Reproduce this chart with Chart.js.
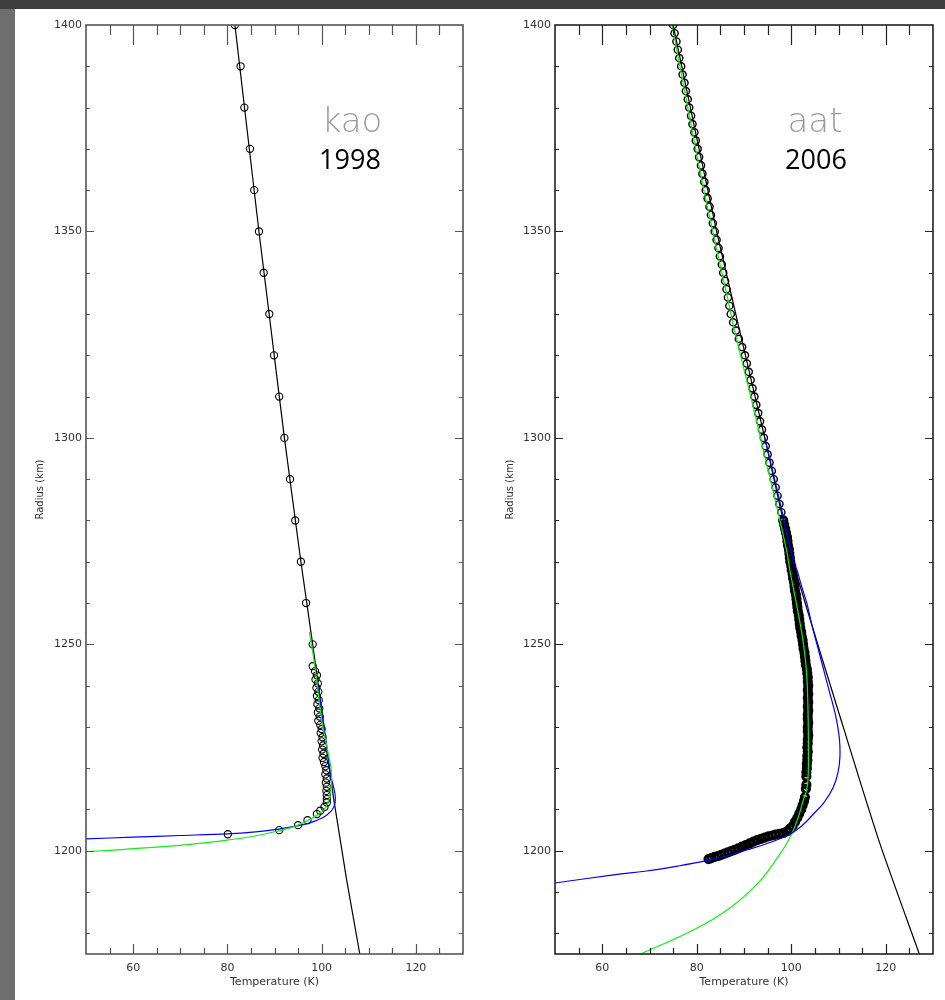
<!DOCTYPE html>
<html>
<head>
<meta charset="utf-8">
<script src="https://cdn.jsdelivr.net/npm/chart.js@4.4.1/dist/chart.umd.min.js"></script>
<style>
  html, body { margin: 0; padding: 0; }
  body { width: 945px; height: 1000px; background: #6e6e6e; position: relative; overflow: hidden; }
  .topband { position: absolute; left: 0; top: 0; width: 945px; height: 9px; background: #3d3d3d; }
  .sheet { position: absolute; left: 15px; top: 9px; width: 930px; height: 991px; background: #fff; }
  canvas { position: absolute; top: 0; }
  #kaoChart { left: 0; }
  #aatChart { left: 480px; }
  .site { position: absolute; font-family: 'DejaVu Sans'; font-weight: 200; font-size: 34px; line-height: 1; color: #9a9a9a; transform: translateX(-50%); }
  .year { position: absolute; font-family: 'Open Sans'; font-size: 27px; line-height: 1; color: #000; transform: translateX(-50%); }
</style>
</head>
<body>
<div class="topband"></div>
<div class="sheet"></div>
<canvas id="kaoChart" width="480" height="1000"></canvas>
<canvas id="aatChart" width="465" height="1000"></canvas>
<div class="site" style="left:352px; top:103px;">kao</div>
<div class="year" style="left:350px; top:145px;">1998</div>
<div class="site" style="left:815px; top:103px;">aat</div>
<div class="year" style="left:816px; top:145px;">2006</div>

<script>
// axes
const xTicks = [60, 80, 100, 120];
const xMinor = [55, 60, 65, 70, 75, 80, 85, 90, 95, 100, 105, 110, 115, 120, 125];
const yTicks = [1200, 1250, 1300, 1350, 1400];
const yMinor = [1180, 1190, 1200, 1210, 1220, 1230, 1240, 1250, 1260, 1270, 1280, 1290,
  1300, 1310, 1320, 1330, 1340, 1350, 1360, 1370, 1380, 1390];

// kao 1998 - observed profile
const kaoObsT = [81.6, 82.8, 83.6, 84.8, 85.7, 86.7, 87.7, 88.9, 89.9, 91.0, 92.1, 93.3, 94.4, 95.6, 96.7, 98.1,
  98.1, 98.6, 99.0, 98.7, 99.2, 98.9, 99.3, 99.0, 99.4, 99.1, 99.5, 99.2, 99.6, 99.3, 99.7,
  100.0, 99.8, 100.2, 100.0, 100.3, 100.1, 100.4, 100.2, 100.5, 100.8, 101.0, 100.8, 101.1, 100.9,
  101.1, 101.0, 101.1, 101.1, 101.1, 100.6, 99.7, 99.0, 97.0, 95.0, 91.0, 80.1];
const kaoObsR = [1400, 1390, 1380, 1370, 1360, 1350, 1340, 1330, 1320, 1310, 1300, 1290, 1280, 1270, 1260, 1250,
  1244.7, 1243.5, 1242.5, 1241.5, 1240.5, 1239.5, 1238.5, 1237.5, 1236.5, 1235.5, 1234.5, 1233.5, 1232.5, 1231.5, 1230.5,
  1229.5, 1228.5, 1227.5, 1226.5, 1225.5, 1224.5, 1223.5, 1222.5, 1221.5, 1220.5, 1219.5, 1218.5, 1217.5, 1216.5,
  1215.5, 1214.5, 1213.5, 1212.5, 1211.7, 1210.6, 1209.7, 1208.9, 1207.4, 1206.2, 1205.0, 1204.0];
// kao 1998 - model curves
const kaoLineT = [81.6, 86.7, 92.1, 95.6, 98.1, 100.5, 102.5, 105.3, 108.1];
const kaoLineR = [1400, 1350, 1300, 1270, 1250, 1230, 1213, 1193, 1175];
const kaoBlueT = [50, 60, 70, 80, 86, 91.2, 96.8, 100.4, 102.1, 102.8, 102.9, 102.7, 102.2, 101.6, 101.4, 100.6, 99.3];
const kaoBlueR = [1202.9, 1203.3, 1203.7, 1204.1, 1204.6, 1205.3, 1206.5, 1208.1, 1209.7, 1211.3, 1213.0, 1214.6, 1217.0, 1220.0, 1222.5, 1229, 1240];
const kaoGreenT = [50, 55, 60, 65, 70, 75, 80, 85, 90, 94, 97, 99, 100.4, 101.3, 101.8, 102.1, 102.0, 101.5, 100.8, 100.1, 99.5, 99.0, 98.4, 97.4];
const kaoGreenR = [1199.8, 1200.1, 1200.5, 1200.9, 1201.3, 1201.9, 1202.6, 1203.4, 1204.6, 1205.8, 1207.3, 1208.6, 1209.8, 1211.5, 1213.8, 1217, 1220, 1223, 1227, 1231, 1236, 1241, 1246, 1253];

// aat 2006 - observed profile, upper part
const aatObsT = [75.0, 75.3, 75.7, 76.0, 76.3, 76.7, 77.0, 77.4, 77.7, 78.1, 78.4, 78.8, 79.1, 79.5, 79.8,
  80.2, 80.5, 80.9, 81.2, 81.6, 81.9, 82.3, 82.7, 83.0, 83.4, 83.8, 84.2, 84.6, 84.9, 85.3,
  85.6, 86.0, 86.3, 86.6, 86.9, 87.2, 87.7, 88.3, 88.9, 89.6, 90.2, 90.6, 91.0, 91.4, 91.8,
  92.2, 92.6, 93.0, 93.4, 93.8, 94.2, 94.6, 95.0, 95.4, 95.9, 96.3, 96.7, 97.1, 97.5, 97.9];
const aatObsR = [1400, 1398, 1396, 1394, 1392, 1390, 1388, 1386, 1384, 1382, 1380, 1378, 1376, 1374, 1372,
  1370, 1368, 1366, 1364, 1362, 1360, 1358, 1356, 1354, 1352, 1350, 1348, 1346, 1344, 1342,
  1340, 1338, 1336, 1334, 1332, 1330, 1328, 1326, 1324, 1322, 1320, 1318, 1316, 1314, 1312,
  1310, 1308, 1306, 1304, 1302, 1300, 1298, 1296, 1294, 1292, 1290, 1288, 1286, 1284, 1282];
// aat 2006 - observed profile, dense lower part
const aatDenseT = [98.3, 98.5, 98.7, 98.9, 99.1, 99.2, 99.3, 99.5, 99.6, 99.7,
  99.8, 100.0, 100.1, 100.3, 100.4, 100.6, 100.7, 100.8, 101.0, 101.1,
  101.2, 101.3, 101.4, 101.6, 101.7, 101.8, 101.9, 102.1, 102.2, 102.4,
  102.5, 102.6, 102.8, 102.9, 103.0, 103.1, 103.3, 103.4, 103.5, 103.5,
  103.6, 103.5, 103.6, 103.5, 103.6, 103.5, 103.6, 103.5, 103.5, 103.6,
  103.5, 103.5, 103.6, 103.5, 103.5, 103.4, 103.5, 103.4, 103.4, 103.3,
  103.3, 103.2, 103.2, 103.2, 103.1, 102.9, 102.7, 102.4, 102.1, 101.7,
  101.3, 100.8, 100.3, 99.7, 99.1,
  98.3, 97.5, 96.7, 96.0, 95.2, 94.4, 93.6, 92.8, 92.0, 91.2, 90.4, 89.6, 88.8, 88.0,
  87.3, 86.6, 85.9, 85.2, 84.5, 83.8, 83.1, 82.5];
const aatDenseR = [1280, 1279, 1278, 1277, 1276, 1275, 1274, 1273, 1272, 1271,
  1270, 1269, 1268, 1267, 1266, 1265, 1264, 1263, 1262, 1261,
  1260, 1259, 1258, 1257, 1256, 1255, 1254, 1253, 1252, 1251,
  1250, 1249, 1248, 1247, 1246, 1245, 1244, 1243, 1242, 1241,
  1240, 1239, 1238, 1237, 1236, 1235, 1234, 1233, 1232, 1231,
  1230, 1229, 1228, 1227, 1226, 1225, 1224, 1223, 1222, 1221,
  1220, 1219, 1218, 1216, 1215, 1213, 1212, 1211, 1210, 1209,
  1208, 1207, 1206, 1205.3, 1204.7,
  1204.3, 1204.1, 1203.9, 1203.7, 1203.5, 1203.2, 1202.9, 1202.6, 1202.2, 1201.8, 1201.4, 1201.0, 1200.6, 1200.2,
  1199.9, 1199.6, 1199.3, 1199.0, 1198.7, 1198.5, 1198.2, 1198.0];
// aat 2006 - model curves
const aatLineT = [75.0, 84.2, 94.4, 100.4, 111.0, 118.8, 127.1];
const aatLineR = [1400, 1350, 1300, 1270, 1230, 1201.6, 1175];
const aatBlueT = [50, 62, 69.4, 76, 82.1, 86.5, 90.6, 95.5, 99.7, 102.5, 104.7, 107.0, 108.9, 109.9,
  110.3, 110.2, 109.6, 108.8, 107.8, 106.6, 105.4, 104.3, 103.3, 102.2, 101.2, 100.4, 97.5, 94.4];
const aatBlueR = [1192.2, 1194.1, 1195.1, 1196.3, 1197.6, 1198.8, 1200.2, 1202.0, 1204.0, 1206.3, 1208.9, 1211.8, 1215.4, 1219.0,
  1222.7, 1227.0, 1231.6, 1235.5, 1239.7, 1245.0, 1250.2, 1255.0, 1260.0, 1264.0, 1268.0, 1270.4, 1285, 1300];
const aatGreenT = [74.8, 78.1, 81.5, 83.4, 84.2, 86.3, 87.6, 89.5, 91.6, 94.1, 96.6, 99.0, 99.7, 101.4, 102.6,
  103.3, 103.6, 103.6, 103.3, 102.5, 101.6, 100.4, 99.1, 97.6, 93.4, 87.3, 79.8, 68.1];
const aatGreenR = [1400, 1380, 1360, 1350, 1345.6, 1335.1, 1328, 1318.9, 1309.2, 1297, 1285, 1272.8, 1268, 1258, 1250,
  1242, 1230, 1218.6, 1215, 1212.1, 1208.5, 1204.8, 1201.9, 1199.2, 1192.7, 1186.4, 1181.1, 1175];

const pts = (xs, ys) => xs.map((x, i) => ({ x, y: ys[i] }));

Chart.defaults.font.family = 'DejaVu Sans';
Chart.defaults.animation = false;

// IDL-style frame with inward ticks
const frameTicks = {
  id: 'frameTicks',
  afterDraw(chart, args, opts) {
    const { ctx, chartArea: a, scales: { x, y } } = chart;
    ctx.save();
    ctx.strokeStyle = opts.color;
    ctx.lineWidth = 1.2;
    ctx.beginPath();
    xMinor.forEach(v => {
      const px = Math.round(x.getPixelForValue(v)) + 0.5;
      const major = xTicks.includes(v);
      ctx.moveTo(px, a.bottom); ctx.lineTo(px, a.bottom - (major ? 10 : 6));
      ctx.moveTo(px, a.top); ctx.lineTo(px, a.top + (major ? 20 : 10));
    });
    yMinor.forEach(v => {
      const py = Math.round(y.getPixelForValue(v)) + 0.5;
      const len = yTicks.includes(v) ? 8 : 4;
      ctx.moveTo(a.left, py); ctx.lineTo(a.left + len, py);
      ctx.moveTo(a.right, py); ctx.lineTo(a.right - len, py);
    });
    ctx.stroke();
    ctx.lineWidth = 1.6;
    ctx.strokeRect(a.left, a.top, a.width, a.height);
    ctx.restore();
  }
};

const circles = (data, radius, border) => ({
  data, showLine: false, order: 2,
  pointStyle: 'circle', pointRadius: radius,
  pointBorderWidth: border, pointBorderColor: '#000', pointBackgroundColor: 'rgba(0,0,0,0)'
});
const curve = (data, color, tension) => ({
  data, showLine: true, order: 1, pointRadius: 0,
  borderColor: color, borderWidth: 1.2, tension
});

function makePanel(id, datasets, yWidth, padRight, titlePad, frameColor) {
  return new Chart(document.getElementById(id), {
    type: 'scatter',
    data: { datasets },
    options: {
      responsive: false,
      devicePixelRatio: 1,
      layout: { padding: { left: 0, top: 25, right: padRight, bottom: 0 } },
      plugins: { legend: { display: false }, tooltip: { enabled: false }, frameTicks: { color: frameColor } },
      scales: {
        x: {
          type: 'linear', min: 50, max: 130,
          grid: { display: false, drawTicks: false }, border: { display: false },
          afterBuildTicks: s => { s.ticks = xTicks.map(v => ({ value: v })); },
          afterFit: s => { s.height = 46; },
          ticks: { padding: 8, color: '#333', font: { size: 11 }, maxRotation: 0, callback: v => String(v) },
          title: { display: true, text: 'Temperature (K)', color: '#333', font: { size: 11 }, padding: { top: 0, bottom: 11 } }
        },
        y: {
          type: 'linear', min: 1175, max: 1400,
          grid: { display: false, drawTicks: false }, border: { display: false },
          afterBuildTicks: s => { s.ticks = yTicks.map(v => ({ value: v })); },
          afterFit: s => { s.width = yWidth; },
          ticks: { padding: 4, color: '#333', font: { size: 11 }, callback: v => String(v) },
          title: { display: true, text: 'Radius (km)', color: '#333', font: { size: 10 }, padding: { top: titlePad, bottom: 0 } }
        }
      }
    },
    plugins: [frameTicks]
  });
}

makePanel('kaoChart', [
  curve(pts(kaoGreenT, kaoGreenR), '#11ee11', 0.3),
  curve(pts(kaoBlueT, kaoBlueR), '#0000ff', 0.3),
  curve(pts(kaoLineT, kaoLineR), '#000', 0),
  circles(pts(kaoObsT, kaoObsR), 3.6, 1.1)
], 86, 17, 34, '#555');

makePanel('aatChart', [
  circles(pts(aatDenseT, aatDenseR), 3.6, 3),
  circles(pts(aatObsT, aatObsR), 3.6, 1.4),
  curve(pts(aatBlueT, aatBlueR), '#0000ff', 0.4),
  curve(pts(aatLineT, aatLineR), '#000', 0.2),
  curve(pts(aatGreenT, aatGreenR), '#11ee11', 0.4)
], 75, 12, 24, '#222');
</script>
</body>
</html>
